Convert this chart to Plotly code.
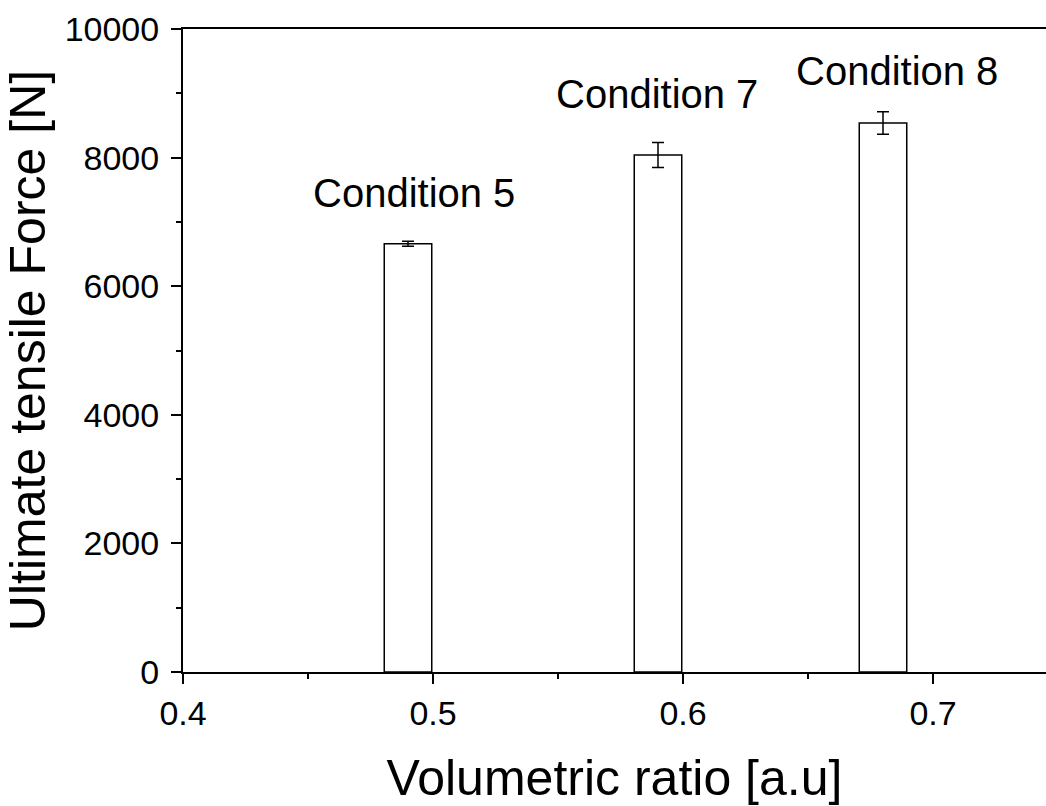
import plotly.graph_objects as go

conditions = ["Condition 5", "Condition 7", "Condition 8"]
volumetric_ratio = [0.49, 0.59, 0.68]
tensile_force = [6660, 8040, 8540]
force_error = [40, 195, 175]
bar_width = [0.019, 0.019, 0.019]

FONT = "Arial, 'Liberation Sans', sans-serif"

fig = go.Figure()
fig.add_trace(go.Bar(
    x=volumetric_ratio, y=tensile_force, width=bar_width,
    marker=dict(color="white", line=dict(color="black", width=1.5)),
    error_y=dict(type="data", array=force_error, visible=True,
                 color="black", thickness=1.5, width=6),
    showlegend=False,
))

label_shift = [(6, 24), (-1, 24), (14, 17)]
for name, x, y, e, (dx, dy) in zip(conditions, volumetric_ratio, tensile_force, force_error, label_shift):
    fig.add_annotation(x=x, y=y + e, text=name, showarrow=False,
                       xanchor="center", yanchor="bottom", xshift=dx, yshift=dy,
                       font=dict(family=FONT, size=40, color="black"))

fig.update_layout(
    width=1046, height=806,
    margin=dict(l=183, r=0, t=29, b=134, autoexpand=False),
    plot_bgcolor="white", paper_bgcolor="white",
    font=dict(family=FONT, color="black"),
)
fig.update_xaxes(
    range=[0.4, 0.7452], tick0=0.4, dtick=0.1, tickformat=".1f",
    showline=True, linecolor="black", linewidth=2, mirror=True,
    ticks="outside", ticklen=10, tickwidth=2, tickcolor="black",
    minor=dict(ticks="outside", ticklen=5, tickwidth=2, tickcolor="black", dtick=0.05),
    showgrid=False, zeroline=False,
    tickfont=dict(size=34),
    title=dict(text="Volumetric ratio [a.u]", font=dict(size=50), standoff=32),
)
fig.update_yaxes(
    range=[0, 10000], tick0=0, dtick=2000, tickformat="d",
    showline=True, linecolor="black", linewidth=2,
    ticks="outside", ticklen=10, tickwidth=2, tickcolor="black",
    minor=dict(ticks="outside", ticklen=5, tickwidth=2, tickcolor="black", dtick=1000),
    showgrid=False, zeroline=False,
    tickfont=dict(size=34), ticklabelstandoff=5,
    title=dict(text="Ultimate tensile Force [N]", font=dict(size=50), standoff=4),
)

fig.write_html("out.html")
